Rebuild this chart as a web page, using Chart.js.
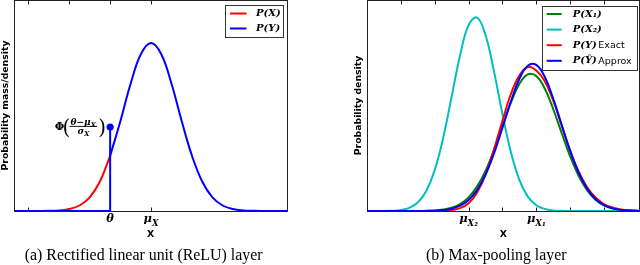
<!DOCTYPE html>
<html>
<head>
<meta charset="utf-8">
<script src="https://cdn.jsdelivr.net/npm/chart.js@4"></script>
<style>
html,body{margin:0;padding:0;background:#fff;width:640px;height:265px;overflow:hidden;}
canvas{position:absolute;top:0;}
#c1{left:0;} #c2{left:320px;}
</style>
</head>
<body>
<canvas id="c1" width="320" height="265"></canvas>
<canvas id="c2" width="320" height="265"></canvas>
<script>
// ---------- Left panel (ReLU) data ----------
const leftRedX  = [-3.35,-3,-2.75,-2.5,-2.25,-2,-1.75,-1.5,-1.25,-1];
const leftRedY  = [0,0,0.03,0.16,0.6,1.95,5.5,13.7,29.5,55.2];
const leftBlueX = [-1,-0.75,-0.5,-0.25,0,0.25,0.5,0.75,1,1.25,1.5,1.75,2,2.25,2.5,2.75,3,3.33];
const leftBlueY = [55.2,89.8,127.2,156.7,168,156.7,127.2,89.8,55.2,29.5,13.7,5.5,1.95,0.6,0.16,0.03,0,0];
const leftStemX = [-3.35,-1,-1];
const leftStemY = [0,0,84];
const leftTopTicks = [-3,-2,-1,0];
const leftBottomTicks = [-3,-1,0];
const leftTickValues = [-1,0];
const leftTickLabels = ['θ','μ_X'];
const leftLabels = ['P(X)','P(Y)'];

// ---------- Right panel (max-pooling) data ----------
const rightX = [0,0.25,0.5,0.75,1,1.25,1.5,1.75,2,2.25,2.5,2.75,3,3.25,3.5,3.75,4,4.25,4.5,4.75,5,5.25,5.5,5.75,6,6.25,6.5,6.75,7,7.25,7.5,7.75,8,8.05];
const greenY = [0,0,0,0,0,0,0,0.2,0.55,1.4,3.2,6.9,13.6,24.4,40.2,61.0,84.8,108.3,127.0,136.6,135.0,122.5,102.0,78.0,54.7,35.3,20.9,11.3,5.6,2.6,1.1,0.4,0.1,0.1];
const cyanY  = [0,0,0,0.2,1.0,3.2,8.5,20.0,40.9,73.1,114.2,155.8,185.8,193.5,176.0,139.9,97.1,58.9,31.2,14.4,5.8,2.1,0.6,0.2,0,0,0,0,0,0,0,0,0,0];
const redY   = [0,0,0,0,0,0,0,0,0.1,0.3,0.8,2.8,7.8,18.3,36.1,61.5,90.0,117.0,135.5,144.0,140.5,130.0,110.5,85.5,60.5,39.5,24.0,13.5,7.0,3.5,1.6,0.7,0.3,0.2];
const blueY  = [0,0,0,0,0,0,0,0.1,0.3,0.9,2.3,5.3,11.0,20.9,36.3,57.4,83.0,109.5,132.0,145.3,146.1,134.2,112.5,86.2,60.3,38.5,22.5,12.0,5.8,2.6,1.1,0.4,0.1,0.1];
const rightTopTicks = [1,2,3,4,5,6,7];
const rightBottomTicks = [3,4,5,6,7];
const rightTickValues = [3,5];
const rightTickLabels = ['μ_X₂','μ_X₁'];
const rightLabels = ['P(X₁)','P(X₂)','P(Y) Exact','P(Ŷ) Approx'];

const pts = (xs, ys) => xs.map((x, i) => ({x: x, y: ys[i]}));

function drawSubText(ctx, text, cx, baseY, mainFont, subFont, subDy) {
  const parts = text.split('_');
  ctx.font = mainFont;
  const wm = ctx.measureText(parts[0]).width;
  let ws = 0;
  if (parts[1]) { ctx.font = subFont; ws = ctx.measureText(parts[1]).width; }
  const x0 = cx - (wm + ws) / 2;
  ctx.textAlign = 'left';
  ctx.textBaseline = 'alphabetic';
  ctx.font = mainFont;
  ctx.fillText(parts[0], x0, baseY);
  if (parts[1]) { ctx.font = subFont; ctx.fillText(parts[1], x0 + wm, baseY + subDy); }
}

const decor = {
  id: 'decor',
  beforeDatasetsDraw(chart, args, o) {
    const {ctx, chartArea: a, scales: {x}} = chart;
    ctx.save();
    ctx.strokeStyle = '#222';
    ctx.lineWidth = 1;
    const L = Math.floor(a.left) + 0.5, R = Math.floor(a.right) + 0.5;
    const T = Math.floor(a.top) + 0.5, B = Math.floor(a.bottom) + 0.5;
    ctx.strokeRect(L, T, R - L, B - T);
    ctx.beginPath();
    o.topTicks.forEach(v => { const px = Math.round(x.getPixelForValue(v)) + 0.5; ctx.moveTo(px, T); ctx.lineTo(px, T + 4); });
    o.bottomTicks.forEach(v => { const px = Math.round(x.getPixelForValue(v)) + 0.5; ctx.moveTo(px, B); ctx.lineTo(px, B - 4); });
    ctx.stroke();
    // tick labels
    ctx.fillStyle = '#000';
    o.tickValues.forEach((v, i) => {
      const px = x.getPixelForValue(v);
      drawSubText(ctx, o.tickLabels[i], px, a.bottom + 11.3, 'italic bold 11.5px "DejaVu Serif"', 'italic bold 8.5px "DejaVu Serif"', 3.2);
    });
    ctx.restore();
  },
  afterDatasetsDraw(chart, args, o) {
    const {ctx, chartArea: a, scales: {x, y}} = chart;
    ctx.save();
    // legend
    const lg = o.legend;
    ctx.fillStyle = '#fff';
    ctx.fillRect(lg.x, lg.y, lg.w, lg.h);
    ctx.strokeStyle = '#333';
    ctx.lineWidth = 1;
    ctx.strokeRect(lg.x + 0.5, lg.y + 0.5, lg.w, lg.h);
    let row = 0;
    chart.data.datasets.forEach(d => {
      if (!d.label) return;
      const ry = lg.row0 + row * lg.gap;
      ctx.strokeStyle = d.borderColor;
      ctx.lineWidth = 2;
      ctx.beginPath(); ctx.moveTo(lg.l0, ry); ctx.lineTo(lg.l1, ry); ctx.stroke();
      const sp = d.label.indexOf(' ');
      const m = sp < 0 ? d.label : d.label.slice(0, sp);
      const rest = sp < 0 ? '' : d.label.slice(sp + 1);
      ctx.fillStyle = '#000';
      ctx.textAlign = 'left';
      ctx.textBaseline = 'middle';
      ctx.font = 'italic bold 10px "DejaVu Serif"';
      ctx.fillText(m, lg.tx, ry);
      if (rest) {
        const w = ctx.measureText(m).width;
        ctx.font = '9.5px "DejaVu Sans"';
        ctx.fillText(rest, lg.tx + w + 1.5, ry + 0.5);
      }
      row++;
    });
    // annotation for the point mass
    if (o.annot) {
      const ax = x.getPixelForValue(o.annot.x), ay = y.getPixelForValue(o.annot.y);
      ctx.fillStyle = '#000';
      ctx.textBaseline = 'alphabetic';
      ctx.textAlign = 'center';
      ctx.font = 'bold 11px "DejaVu Serif"';
      ctx.fillText('Φ', ax - 50.5, ay + 2.6);
      ctx.font = '20px "DejaVu Serif"';
      ctx.fillText('(', ax - 43.8, ay + 6.5);
      ctx.fillText(')', ax - 8.0, ay + 6.5);
      drawSubText(ctx, 'θ−μ_X', ax - 27.0, ay - 2.0, 'italic bold 9px "DejaVu Serif"', 'italic bold 6.5px "DejaVu Serif"', 1.8);
      drawSubText(ctx, 'σ_X', ax - 26.8, ay + 7.0, 'italic bold 9px "DejaVu Serif"', 'italic bold 6.5px "DejaVu Serif"', 1.8);
      ctx.strokeStyle = '#000';
      ctx.lineWidth = 0.9;
      ctx.beginPath(); ctx.moveTo(ax - 40.5, ay - 0.6); ctx.lineTo(ax - 13, ay - 0.6); ctx.stroke();
    }
    ctx.restore();
  }
};

const axTitleFont = {family: 'DejaVu Sans', size: 9.3, weight: 'bold'};
function makeScales(xmin, xmax, ytitle) {
  return {
    x: {type: 'linear', min: xmin, max: xmax,
        ticks: {display: false}, grid: {display: false, drawTicks: false}, border: {display: false},
        title: {display: true, text: 'X', color: '#000', font: axTitleFont, padding: {top: 17.64, bottom: 7.2}}},
    y: {type: 'linear', min: 0, max: 211,
        ticks: {display: false}, grid: {display: false, drawTicks: false}, border: {display: false},
        title: {display: true, text: ytitle, color: '#000', font: axTitleFont, padding: {top: 0.3, bottom: 2.54}}}
  };
}
function captionOpts(text, size) {
  return {display: true, position: 'bottom', text: text, color: '#000',
          font: {family: 'Liberation Serif', size: size, weight: 'normal', lineHeight: 18 / size},
          padding: {top: 0, bottom: 0}};
}
const lineDs = (label, xs, ys, color, order) => ({
  label: label, data: pts(xs, ys), borderColor: color, backgroundColor: color,
  borderWidth: 2, pointRadius: 0, tension: 0.4, fill: false, order: order,
  borderCapStyle: 'round', borderJoinStyle: 'round'
});

new Chart(document.getElementById('c1'), {
  type: 'line',
  data: {datasets: [
    lineDs(leftLabels[0], leftRedX, leftRedY, '#ff0000', 2),
    lineDs(leftLabels[1], leftBlueX, leftBlueY, '#0000ff', 0),
    Object.assign(lineDs('', leftStemX, leftStemY, '#0000ff', 1), {tension: 0, pointRadius: [0, 0, 3.6], pointBorderWidth: 0, pointBackgroundColor: '#0000ff'})
  ]},
  options: {
    responsive: false, animation: false, devicePixelRatio: 1,
    layout: {autoPadding: false, padding: {left: 0, right: 32.7, top: 0, bottom: 0}},
    scales: makeScales(-3.35, 3.33, 'Probability mass/density'),
    plugins: {
      legend: {display: false}, tooltip: {enabled: false},
      title: captionOpts('(a) Rectified linear unit (ReLU) layer', 15.9),
      decor: {topTicks: leftTopTicks, bottomTicks: leftBottomTicks, tickValues: leftTickValues, tickLabels: leftTickLabels,
              legend: {x: 225, y: 5, w: 58, h: 32, row0: 13.5, gap: 15, l0: 230, l1: 246.5, tx: 256},
              annot: {x: leftStemX[2], y: leftStemY[2]}}
    }
  },
  plugins: [decor]
});

new Chart(document.getElementById('c2'), {
  type: 'line',
  data: {datasets: [
    lineDs(rightLabels[0], rightX, greenY, '#008000', 3),
    lineDs(rightLabels[1], rightX, cyanY, '#00bfbf', 2),
    lineDs(rightLabels[2], rightX, redY, '#ff0000', 1),
    lineDs(rightLabels[3], rightX, blueY, '#0000ff', 0)
  ]},
  options: {
    responsive: false, animation: false, devicePixelRatio: 1,
    layout: {autoPadding: false, padding: {left: 33, right: 0.5, top: 0, bottom: 0}},
    scales: makeScales(0, 8.05, 'Probability density'),
    plugins: {
      legend: {display: false}, tooltip: {enabled: false},
      title: captionOpts('(b) Max-pooling layer', 15.8),
      decor: {topTicks: rightTopTicks, bottomTicks: rightBottomTicks, tickValues: rightTickValues, tickLabels: rightTickLabels,
              legend: {x: 222, y: 6, w: 95, h: 64, row0: 14, gap: 15.6, l0: 226.7, l1: 241.7, tx: 252.7},
              annot: null}
    }
  },
  plugins: [decor]
});
</script>
</body>
</html>
